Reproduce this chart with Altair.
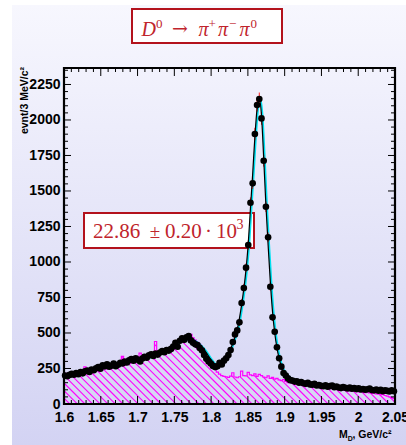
import numpy as np
import pandas as pd
import altair as alt

# ---------------- data ----------------
BIN_LO = 1.6
BIN_W = 0.003
N_BINS = 150
X_MIN, X_MAX = 1.6, 2.05
Y_MAX = 2366

# data points: events per 3 MeV bin (150 bins from 1.6 to 2.05 GeV)
counts = [
    200, 195, 205, 212, 206, 218, 210, 225, 216, 230,
    236, 226, 242, 238, 252, 260, 248, 272, 265, 280,
    262, 270, 284, 266, 276, 290, 285, 298, 292, 308,
    316, 305, 322, 312, 300, 320, 332, 326, 342, 350,
    338, 356, 348, 362, 372, 365, 380, 376, 388, 405,
    431, 403, 445, 462, 452, 470, 478, 448, 432, 420,
    415, 395, 378, 345, 318, 300, 285, 268, 260, 265,
    290, 278, 305, 322, 345, 380, 436, 490, 518, 575,
    711, 817, 960, 1119, 1417, 1554, 1901, 2105, 2147, 2011,
    1713, 1389, 1174, 826, 610, 509, 399, 322, 263, 218,
    200, 180, 168, 165, 158, 160, 150, 155, 146, 142,
    150, 138, 136, 142, 130, 134, 128, 125, 132, 122,
    126, 130, 118, 122, 116, 112, 120, 114, 110, 115,
    108, 112, 105, 110, 102, 106, 100, 104, 108, 98,
    96, 102, 94, 99, 90, 96, 92, 88, 97, 90,
]

# background histogram (magenta, hatched)
bkg = [
    215, 195, 190, 200, 205, 198, 210, 212, 205, 262,
    220, 218, 225, 230, 235, 240, 236, 245, 250, 248,
    255, 258, 262, 255, 268, 275, 335, 272, 280, 285,
    290, 295, 300, 305, 358, 310, 320, 325, 335, 362,
    345, 440, 352, 360, 368, 375, 385, 392, 400, 410,
    420, 428, 440, 450, 462, 470, 478, 490, 465, 450,
    435, 420, 395, 370, 335, 310, 290, 265, 245, 225,
    210, 200, 195, 192, 188, 196, 220, 190, 185, 192,
    232, 200, 198, 222, 205, 200, 212, 195, 208, 200,
    190, 185, 198, 180, 188, 175, 180, 170, 165, 172,
    160, 150, 155, 145, 140, 148, 138, 135, 130, 128,
    132, 125, 122, 126, 118, 120, 115, 112, 116, 110,
    108, 112, 105, 102, 106, 100, 98, 95, 99, 92,
    90, 94, 88, 85, 88, 82, 80, 84, 78, 75,
    78, 72, 70, 66, 68, 60, 55, 50, 45, 40,
]

# fit curve
fit_mass = [1.600, 1.620, 1.640, 1.660, 1.680, 1.700, 1.720, 1.740, 1.752, 1.762,
            1.772, 1.782, 1.792, 1.800, 1.806, 1.812, 1.8175, 1.8235, 1.8295, 1.8355,
            1.8415, 1.8475, 1.8505, 1.8535, 1.8565, 1.8595, 1.8625, 1.8655, 1.8685, 1.8715,
            1.8745, 1.8775, 1.8805, 1.8835, 1.8865, 1.8895, 1.8925, 1.8955, 1.900, 1.908,
            1.920, 1.940, 1.970, 2.000, 2.030, 2.050]
fit_val = [200, 222, 246, 268, 290, 310, 335, 372, 418, 452,
           455, 425, 372, 310, 280, 282, 305, 345, 430, 525,
           700, 950, 1130, 1380, 1620, 1880, 2080, 2150, 2030, 1730,
           1400, 1120, 860, 650, 500, 395, 320, 265, 220, 180,
           152, 135, 122, 110, 98, 92]

x_tick_labels = [1.6, 1.65, 1.7, 1.75, 1.8, 1.85, 1.9, 1.95, 2.0, 2.05]
y_tick_labels = [0, 250, 500, 750, 1000, 1250, 1500, 1750, 2000, 2250]

title_pieces = ["D", "0", "\u2192", "\u03c0", "+", "\u03c0", "\u2212", "\u03c0", "0"]
yield_pieces = ["22.86", "\u00b1", "0.20", "\u00b7", "10", "3"]
y_title = "evnt/3 MeV/c\u00b2"
x_title_pieces = ["M", "D", ", GeV/c\u00b2"]

# ---------------- layout / style ----------------
W, H = 331, 336
SERIF = "Liberation Serif"
SANS = "Liberation Sans"
RED_TXT = "#c0242c"
RED_BOX = "#b3121c"
MAG = "#ff00ff"

xs = alt.Scale(domain=[X_MIN, X_MAX], nice=False, zero=False)
ys = alt.Scale(domain=[0, Y_MAX], nice=False, zero=False)

x_axis = alt.Axis(values=x_tick_labels, format="~g", labelFont=SANS, labelFontWeight="bold",
                  labelFontSize=14, labelColor="black", ticks=False, domain=False, grid=False,
                  title=None, labelPadding=6, labelFlush=False, labelOverlap=False, zindex=1)
y_axis = alt.Axis(values=y_tick_labels, format="d", labelFont=SANS, labelFontWeight="bold",
                  labelFontSize=14, labelColor="black", ticks=False, domain=False, grid=False,
                  title=None, labelPadding=4, labelFlush=False, labelOverlap=False, zindex=1)


def X(f):
    return alt.X(f, scale=xs, axis=x_axis)


def Y(f):
    return alt.Y(f, scale=ys, axis=y_axis)


idx = np.arange(N_BINS)
centers = BIN_LO + BIN_W * (idx + 0.5)
edges_lo = BIN_LO + BIN_W * idx

df_pts = pd.DataFrame({"m": centers, "n": counts})

# magenta outline (step)
out_m = [BIN_LO] + list(edges_lo) + [X_MAX]
out_v = [0] + list(bkg) + [bkg[-1]]
df_out = pd.DataFrame({"m": out_m, "v": out_v, "k": np.arange(len(out_m))})

# hatch segments derived from the background histogram
HATCH_STEP = 7.6
bk = np.array(bkg, float)
grid = np.arange(0, W + 0.001, 0.25)
mg = X_MIN + grid / W * (X_MAX - X_MIN)
bi = np.clip(np.floor((mg - BIN_LO) / BIN_W + 1e-9).astype(int), 0, N_BINS - 1)
top_py = H - bk[bi] / Y_MAX * H
rows = []
for b in np.arange(-W, H, HATCH_STEP):
    py = grid + b
    inside = (py <= H) & (py >= top_py)
    if not inside.any():
        continue
    d = np.diff(np.concatenate([[0], inside.astype(int), [0]]))
    starts = np.where(d == 1)[0]
    ends = np.where(d == -1)[0] - 1
    for s, e in zip(starts, ends):
        if e <= s:
            continue
        rows.append(dict(x=mg[s], y=(H - py[s]) / H * Y_MAX,
                         x2=mg[e], y2=(H - py[e]) / H * Y_MAX))
df_hatch = pd.DataFrame(rows)

df_fit = pd.DataFrame({"m": fit_mass, "v": fit_val})

x_minor = [round(v, 3) for v in np.arange(1.61, 2.05, 0.01) if abs(v / 0.05 - round(v / 0.05)) > 1e-6]
y_minor = [v for v in range(50, 2366, 50) if v % 250 != 0]
df_xmaj = pd.DataFrame({"t": x_tick_labels})
df_xmin = pd.DataFrame({"t": x_minor})
df_ymaj = pd.DataFrame({"t": y_tick_labels})
df_ymin = pd.DataFrame({"t": y_minor})

one = alt.Data(values=[{"a": 1}])

# ---------------- layers ----------------
bg = alt.Chart(one).mark_rect(
    fill=alt.Gradient(gradient="linear",
                      stops=[alt.GradientStop(color="#f7f7fe", offset=0),
                             alt.GradientStop(color="#d3d3f3", offset=1)],
                      x1=0, x2=0, y1=0, y2=1)
).encode(x=alt.value(-52), x2=alt.value(342), y=alt.value(-63), y2=alt.value(377))

hatch = alt.Chart(df_hatch).mark_rule(color=MAG, strokeWidth=1.1).encode(
    x=X("x:Q"), y=Y("y:Q"), x2="x2:Q", y2="y2:Q")

outline = alt.Chart(df_out).mark_line(color=MAG, strokeWidth=1.2, interpolate="step-after").encode(
    x=X("m:Q"), y=Y("v:Q"), order="k:Q")

ybox = alt.Chart(one).mark_rect(fill="white", stroke=RED_BOX, strokeWidth=2).encode(
    x=alt.value(20), x2=alt.value(190), y=alt.value(145), y2=alt.value(180))


def txt(s, x, y, size, font=SERIF, color=RED_TXT, style="normal", weight="normal",
        align="left", baseline="alphabetic", angle=0):
    kw = dict(text=s, font=font, fontSize=size, color=color, fontStyle=style,
              fontWeight=weight, align=align, baseline=baseline)
    if angle:
        kw["angle"] = angle
    return alt.Chart(one).mark_text(**kw).encode(x=alt.value(x), y=alt.value(y))


yield_txt = [
    txt(yield_pieces[0], 29, 169.5, 21),
    txt(yield_pieces[1], 91, 169.5, 19, align="center"),
    txt(yield_pieces[2], 101, 169.5, 21),
    txt(yield_pieces[3], 144.5, 169.5, 21, align="center"),
    txt(yield_pieces[4], 152, 169.5, 21),
    txt(yield_pieces[5], 172.5, 161, 14),
]

cyan = alt.Chart(df_fit).mark_line(color="#00e0f0", strokeWidth=2, interpolate="monotone", xOffset=1).encode(
    x=X("m:Q"), y=Y("v:Q"))

errs = alt.Chart(df_pts).transform_calculate(
    lo="datum.n - sqrt(datum.n)", hi="datum.n + sqrt(datum.n)"
).mark_rule(color="#ff2020", strokeWidth=1).encode(
    x=X("m:Q"), y=Y("lo:Q"), y2="hi:Q")

pts = alt.Chart(df_pts).mark_circle(color="black", size=44, opacity=1).encode(
    x=X("m:Q"), y=Y("n:Q"))

fitline = alt.Chart(df_fit).mark_line(color="black", strokeWidth=1.2, interpolate="monotone").encode(
    x=X("m:Q"), y=Y("v:Q"))


def xticks(df, y0, y1):
    return alt.Chart(df).mark_rule(color="black", strokeWidth=1).encode(
        x=X("t:Q"), y=alt.value(y0), y2=alt.value(y1))


def yticks(df, x0, x1):
    return alt.Chart(df).mark_rule(color="black", strokeWidth=1).encode(
        y=Y("t:Q"), x=alt.value(x0), x2=alt.value(x1))


ticks = [
    xticks(df_xmaj, H, H - 8), xticks(df_xmin, H, H - 4),
    xticks(df_xmaj, 0, 8), xticks(df_xmin, 0, 4),
    yticks(df_ymaj, 0, 7), yticks(df_ymin, 0, 4),
    yticks(df_ymaj, W, W - 7), yticks(df_ymin, W, W - 4),
]

frame = alt.Chart(one).mark_rect(fillOpacity=0, stroke="black", strokeWidth=2.2).encode(
    x=alt.value(0), x2=alt.value(W), y=alt.value(0), y2=alt.value(H))

tbox = alt.Chart(one).mark_rect(fill="white", stroke=RED_BOX, strokeWidth=2).encode(
    x=alt.value(68), x2=alt.value(218), y=alt.value(-59), y2=alt.value(-25))

title_txt = [
    txt(title_pieces[0], 77.5, -32.5, 20, style="italic"),
    txt(title_pieces[1], 92, -40, 13),
    txt(title_pieces[2], 108, -33, 19, font="DejaVu Serif"),
    txt(title_pieces[3], 134.5, -32.5, 20, style="italic"),
    txt(title_pieces[4], 144.5, -40, 13),
    txt(title_pieces[5], 154, -32.5, 20, style="italic"),
    txt(title_pieces[6], 165, -40, 13),
    txt(title_pieces[7], 175.5, -32.5, 20, style="italic"),
    txt(title_pieces[8], 186.5, -40, 13),
]

ytitle = txt(y_title, -39, -1, 10.5, font=SANS, color="black", weight="bold",
             align="right", baseline="middle", angle=270)
xtitle = [
    txt(x_title_pieces[0], 275, 369.5, 10.5, font=SANS, color="black", weight="bold"),
    txt(x_title_pieces[1], 283.8, 372.5, 7, font=SANS, color="black", weight="bold"),
    txt(x_title_pieces[2], 288.5, 369.5, 10.5, font=SANS, color="black", weight="bold"),
]

layers = ([bg, hatch, outline, ybox] + yield_txt + [cyan, errs, pts, fitline] + ticks +
          [frame, tbox] + title_txt + [ytitle] + xtitle)

chart = alt.layer(*layers).properties(
    width=W, height=H,
    padding={"left": 64, "top": 68, "right": 11, "bottom": 41},
    autosize=alt.AutoSizeParams(type="none"),
).configure_view(strokeWidth=0).configure(background="white")

chart.save("out.html", embed_options={"renderer": "svg", "actions": False})
